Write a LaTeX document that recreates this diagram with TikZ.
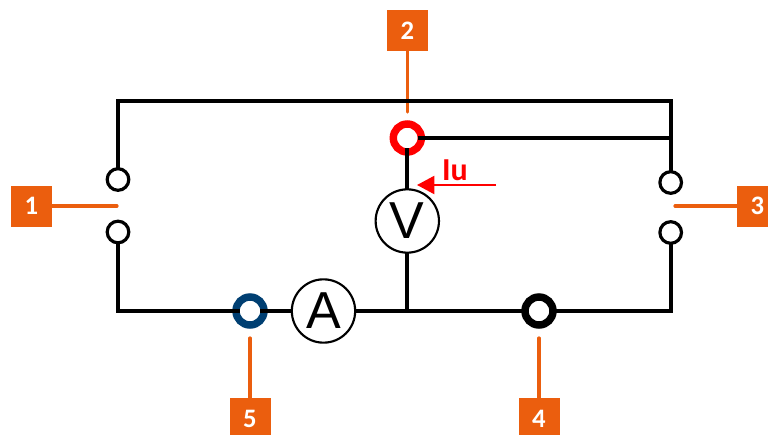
\documentclass[tikz,border=0pt]{standalone}
\usepackage{fontspec}
\setmainfont{Carlito}
\newfontfamily\meterfont{Liberation Sans}
\usetikzlibrary{arrows.meta}
\definecolor{tagorange}{HTML}{EB5E0E}
\definecolor{ringblue}{HTML}{003F72}
\definecolor{ringred}{HTML}{FF0000}
\tikzset{
  x=.75pt,y=-.75pt,
  wire/.style={draw=black,line width=3.1pt,line join=miter},
  leader/.style={draw=tagorange,line width=2.4pt,line cap=round},
  tagbox/.style={fill=tagorange,text=white,font=\bfseries\fontsize{20pt}{20pt}\selectfont,minimum size=30.75pt,inner sep=0pt,outer sep=0pt},
  ring/.style={circle,draw=#1,fill=white,line width=5.6pt,minimum size=21pt,inner sep=0pt,outer sep=-2.8pt},
  meter/.style={circle,draw=black,fill=white,line width=1.6pt,minimum size=47.5pt,inner sep=0pt,outer sep=0pt,font=\meterfont\fontsize{39pt}{39pt}\selectfont},
  contact/.style={circle,draw=black,fill=white,line width=2.4pt,minimum size=16.2pt,inner sep=0pt,outer sep=0pt},
}
\begin{document}
\begin{tikzpicture}
\useasboundingbox (0,0) rectangle (768,435);
\clip (0,0) rectangle (768,435);
% tags
\node[tagbox] (t1) at (31.5,206) {1};
\node[tagbox] (t2) at (407.3,30.5) {2};
\node[tagbox] (t3) at (757.5,206) {3};
\node[tagbox] (t4) at (539,418.5) {4};
\node[tagbox] (t5) at (250,418.5) {5};
\coordinate (e1) at (117,206);
\coordinate (e2) at (407.3,112);
\coordinate (e3) at (675,206);
\coordinate (e4) at (539,338);
\coordinate (e5) at (250,338);
\draw[leader] (t1.east) -- (e1);
\draw[leader] (t2.south) -- (e2);
\draw[leader] (t3.west) -- (e3);
\draw[leader] (t4.north) -- (e4);
\draw[leader] (t5.north) -- (e5);
% terminals
\node[ring=ringred] (r2) at (407.3,138) {};
\node[ring=ringblue] (r5) at (250,311) {};
\node[ring=black] (r4) at (539,311) {};
% contacts
\node[contact] (c1) at (118,179.5) {};
\node[contact] (c2) at (118,232) {};
\node[contact] (c3) at (670.7,182.5) {};
\node[contact] (c4) at (670.7,232.5) {};
% meters
\node[meter] (V) at (407.3,221) {V};
\node[meter] (A) at (323.5,311) {A};
% wiring corners
\coordinate (tl) at (118,101);
\coordinate (tr) at (670.7,101);
\coordinate (mr) at (670.7,138);
\coordinate (bl) at (118,311);
\coordinate (br) at (670.7,311);
\coordinate (j) at (407.3,311);
\draw[wire] (c1.north) -- (tl) -- (tr) -- (c3.north);
\draw[wire] (r2.east) -- (mr);
\draw[wire] (r2.south) -- (V.north);
\draw[wire] (V.south) -- (j);
\draw[wire] (c2.south) -- (bl) -- (r5.west);
\draw[wire] (r5.east) -- (A.west);
\draw[wire] (A.east) -- (r4.west);
\draw[wire] (r4.east) -- (br) -- (c4.south);
% current arrow
\coordinate (as) at (496,185);
\coordinate (ae) at (417,185);
\draw[draw=ringred,line width=1.6pt,-{Triangle[length=13pt,width=13.5pt,fill=ringred]}] (as) -- (ae);
\node[text=ringred,font=\bfseries\fontsize{24pt}{24pt}\selectfont,inner sep=0pt] (iu) at (455,170) {Iu};
\end{tikzpicture}
\end{document}
